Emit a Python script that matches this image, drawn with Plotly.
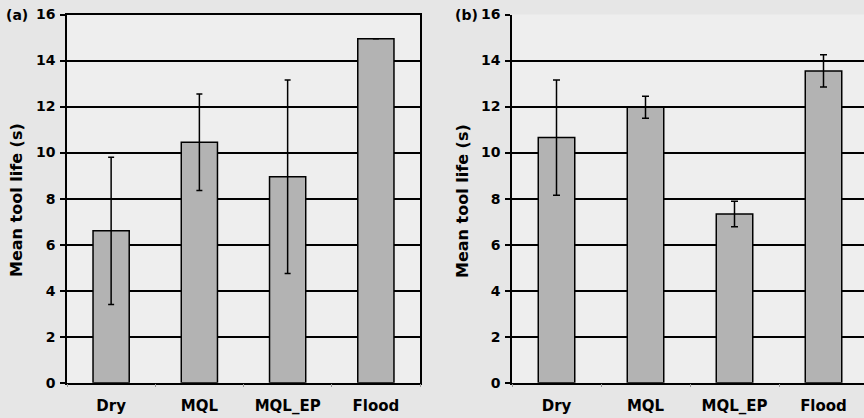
import plotly.graph_objects as go

categories = ["Dry", "MQL", "MQL_EP", "Flood"]
life_a = [6.6, 10.45, 8.95, 14.95]
err_a = [3.2, 2.1, 4.2, 0.0]
life_b = [10.65, 11.97, 7.33, 13.55]
err_b = [2.5, 0.48, 0.55, 0.7]
y_ticks = [0, 2, 4, 6, 8, 10, 12, 14, 16]

FONT = "DejaVu Sans, Arial, sans-serif"
BAR = "#b3b3b3"
PAPER = "#e6e6e6"

fig = go.Figure()
fig.add_trace(go.Bar(
    x=categories, y=life_a, xaxis="x", yaxis="y", width=0.41,
    marker=dict(color=BAR, line=dict(color="black", width=1.5)),
    error_y=dict(type="data", array=err_a, visible=True, color="black", thickness=1.5, width=3),
    showlegend=False))
fig.add_trace(go.Bar(
    x=categories, y=life_b, xaxis="x2", yaxis="y2", width=0.41,
    marker=dict(color=BAR, line=dict(color="black", width=1.5)),
    error_y=dict(type="data", array=err_b, visible=True, color="black", thickness=1.5, width=3.5),
    showlegend=False))

W, H = 864, 418
ydom = [1 - 382.7 / H, 1 - 14.5 / H]
xa_dom = [67 / W, 420 / W]
xb_dom = [512 / W, 1.0]

common_y = dict(range=[0, 16], tickvals=y_ticks, showgrid=True, gridcolor="black", gridwidth=1.5,
                showline=True, linecolor="black", linewidth=1.5, ticks="outside", ticklen=5,
                tickcolor="black", tickwidth=1.5, zeroline=False, ticklabelstandoff=2,
                automargin=False,
                tickfont=dict(family=FONT, size=14, color="black", weight="bold"))
common_x = dict(showline=True, linecolor="black", linewidth=1.5, ticks="outside", ticklen=3,
                tickcolor="#999999", tickwidth=1, tickson="boundaries", ticklabelstandoff=9,
                automargin=False,
                tickfont=dict(family=FONT, size=15, color="black", weight="bold"), showgrid=False)

fig.update_layout(
    width=W, height=H,
    margin=dict(l=0, r=0, t=0, b=0, pad=0),
    paper_bgcolor=PAPER,
    plot_bgcolor="#eeeeee",
    bargap=0.59,
    xaxis=dict(domain=xa_dom, anchor="y", range=[-0.5, 3.5], mirror=True, **common_x),
    yaxis=dict(domain=ydom, anchor="x", mirror=True, **common_y),
    xaxis2=dict(domain=xb_dom, anchor="y2", range=[-0.5, 3.5 - 4 / 89], mirror=False, **common_x),
    yaxis2=dict(domain=ydom, anchor="x2", mirror=False, **common_y),
)

def px_ann(text, x, y, size, angle=0):
    fig.add_annotation(text=text, x=x / W, y=1 - y / H, xref="paper", yref="paper", showarrow=False,
                       textangle=angle, xanchor="center", yanchor="middle",
                       font=dict(family=FONT, size=size, color="black", weight="bold"))

px_ann("(a)", 17, 15, 14)
px_ann("(b)", 466, 15, 14)
px_ann("Mean tool life (s)", 16, 200, 16, angle=-90)
px_ann("Mean tool life (s)", 462, 201, 16, angle=-90)

fig.write_html(
    "out.html",
    config={"displayModeBar": False},
    post_script="document.body.style.margin='0';document.body.style.overflow='hidden';"
                "document.body.style.background='" + PAPER + "';",
)
